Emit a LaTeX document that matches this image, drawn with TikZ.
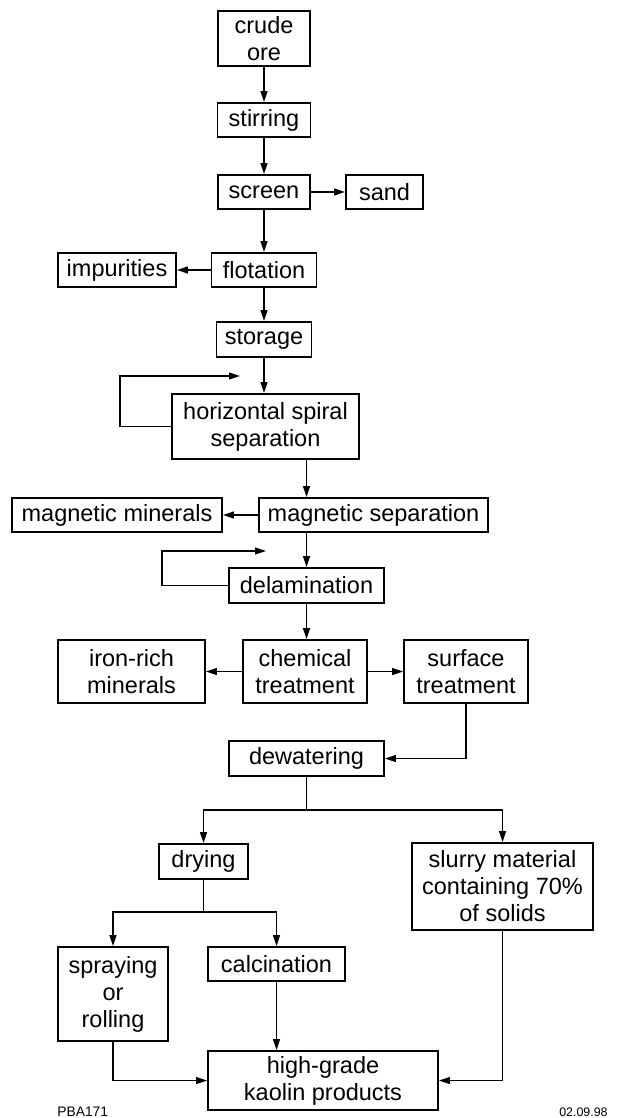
\documentclass[tikz,border=0pt]{standalone}
\usepackage{fontspec}
\setmainfont{Liberation Sans}
\usetikzlibrary{arrows.meta,calc}
\begin{document}
\begin{tikzpicture}[x=0.5pt,y=-0.5pt,
  box/.style={draw, line width=0.85pt, inner sep=0pt, align=center,
    font=\fontsize{11.75}{13.5}\selectfont},
  arr/.style={-{Triangle[length=5.5pt,width=3.4pt]}, line width=0.75pt},
  ln/.style={line width=0.75pt},
  tag/.style={inner sep=0pt, font=\fontsize{6.9}{8}\selectfont}]
\useasboundingbox (0,0) rectangle (617,1118);

\node[box, minimum width=46pt, minimum height=27.5pt] (crude) at (264,38.5) {crude\\ore};
\node[box, minimum width=46.5pt, minimum height=17pt] (stir) at (264,120) {stirring};
\node[box, minimum width=46pt, minimum height=17pt] (screen) at (264,192) {screen};
\node[box, minimum width=38.5pt, minimum height=17pt] (sand) at (384.5,192) {sand};
\node[box, minimum width=52.5pt, minimum height=17pt] (flot) at (264,270) {flotation};
\node[box, minimum width=59pt, minimum height=17pt] (imp) at (117,270) {impurities};
\node[box, minimum width=47.5pt, minimum height=17.5pt] (stor) at (264,339.5) {storage};
\node[box, minimum width=93.5pt, minimum height=32.5pt] (hss) at (265.5,426.5) {horizontal spiral\\separation};
\node[box, minimum width=114.5pt, minimum height=17pt] (magsep) at (373.5,515) {magnetic separation};
\node[box, minimum width=105pt, minimum height=17pt] (magmin) at (117,515) {magnetic minerals};
\node[box, minimum width=77.5pt, minimum height=17.5pt] (delam) at (306.5,585.5) {delamination};
\node[box, minimum width=62pt, minimum height=31.5pt] (chem) at (305,671.5) {chemical\\treatment};
\node[box, minimum width=73.5pt, minimum height=31.5pt] (iron) at (131.5,671.5) {iron-rich\\minerals};
\node[box, minimum width=62pt, minimum height=31.5pt] (surf) at (466,671.5) {surface\\treatment};
\node[box, minimum width=77.5pt, minimum height=17.5pt] (dew) at (306.5,758.5) {dewatering};
\node[box, minimum width=44.5pt, minimum height=17.5pt] (dry) at (203.5,861.5) {drying};
\node[box, minimum width=90.5pt, minimum height=43.5pt] (slurry) at (502.5,886.5) {slurry material\\containing 70\%\\of solids};
\node[box, minimum width=55pt, minimum height=47pt] (spray) at (113,994) {spraying\\or\\rolling};
\node[box, minimum width=68.5pt, minimum height=17pt] (calc) at (276.5,964) {calcination};
\node[box, minimum width=115pt, minimum height=29.5pt] (high) at (323,1080.5) {high-grade\\kaolin products};

\node[tag, anchor=west] (code) at (57,1112) {PBA171};
\node[tag, anchor=east, font=\fontsize{6.2}{8}\selectfont] (date) at (608,1112) {02.09.98};

\coordinate (fb1) at (240,376);
\coordinate (fb2) at (266,551);

\draw[arr] (crude) -- (stir);
\draw[arr] (stir) -- (screen);
\draw[arr] (screen) -- (sand);
\draw[arr] (screen) -- (flot);
\draw[arr] (flot) -- (imp);
\draw[arr] (flot) -- (stor);
\draw[arr] (stor.south) -- (stor.south |- hss.north);
\draw[arr] (hss.west) -- ++(-51,0) |- (fb1);
\draw[arr] (hss.south -| delam.north) -- (magsep.north -| delam.north);
\draw[arr] (magsep) -- (magmin);
\draw[arr] (magsep.south -| delam.north) -- (delam.north);
\draw[arr] (delam.west) -- ++(-66,0) |- (fb2);
\draw[arr] (delam.south) -- (delam.south |- chem.north);
\draw[arr] (chem) -- (iron);
\draw[arr] (chem) -- (surf);
\draw[arr] (surf.south) |- (dew.east);
\draw[ln] (dew.south) -- ++(0,33) coordinate (br1);
\draw[arr] (br1) -| (dry.north);
\draw[arr] (br1) -| (slurry.north);
\draw[ln] (dry.south) -- ++(0,32) coordinate (br2);
\draw[arr] (br2) -| (spray.north);
\draw[arr] (br2) -| (calc.north);
\draw[arr] (spray.south) |- (high.west);
\draw[arr] (calc.south) -- (calc.south |- high.north);
\draw[arr] (slurry.south) |- (high.east);
\end{tikzpicture}
\end{document}
